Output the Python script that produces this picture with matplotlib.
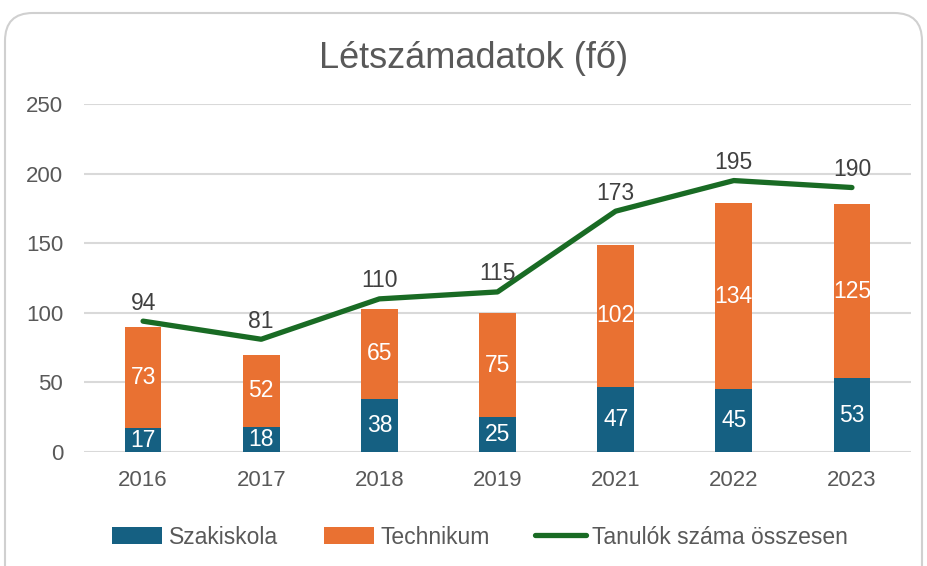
import matplotlib
matplotlib.use("Agg")
import matplotlib.pyplot as plt
from matplotlib.patches import FancyBboxPatch
import numpy as np

plt.rcParams['font.family'] = ['Liberation Sans', 'DejaVu Sans']

years = ["2016", "2017", "2018", "2019", "2021", "2022", "2023"]
szakiskola = [17, 18, 38, 25, 47, 45, 53]
technikum = [73, 52, 65, 75, 102, 134, 125]
osszesen = [94, 81, 110, 115, 173, 195, 190]

BLUE = "#156082"
ORANGE = "#E97132"
GREEN = "#196B24"
TXT = "#595959"
GRID = "#D9D9D9"

W, H = 927, 566
fig = plt.figure(figsize=(W / 100, H / 100), dpi=100)

# rounded chart border
border = FancyBboxPatch((5 / W, -30 / H), (922 - 5) / W, (H - 13 + 30) / H,
                        boxstyle="round,pad=0,rounding_size=0.03",
                        transform=fig.transFigure, facecolor="none",
                        edgecolor="#D0D0D0", linewidth=1.5, mutation_aspect=W / H,
                        zorder=-5)
fig.patches.append(border)

ax = fig.add_axes([84 / W, 114 / H, (911 - 84) / W, 348 / H])
ax.set_facecolor("none")
x = np.arange(len(years))
bw = 0.31

b1 = ax.bar(x, szakiskola, bw, color=BLUE, label="Szakiskola", zorder=2)
b2 = ax.bar(x, technikum, bw, bottom=szakiskola, color=ORANGE, label="Technikum", zorder=2)
ln, = ax.plot(x, osszesen, color=GREEN, lw=3.8, label="Tanulók száma összesen",
              zorder=3, solid_capstyle="round", solid_joinstyle="round")

FS = 16.5
for xi, v in zip(x, szakiskola):
    ax.text(xi, v / 2, str(v), ha="center", va="center", color="white", fontsize=FS, zorder=4)
for xi, s, v in zip(x, szakiskola, technikum):
    ax.text(xi, s + v / 2, str(v), ha="center", va="center", color="white", fontsize=FS, zorder=4)
for xi, v in zip(x, osszesen):
    ax.annotate(str(v), (xi, v), xytext=(0, 13), textcoords="offset points",
                ha="center", va="center", color="#404040", fontsize=FS, zorder=4)

ax.set_ylim(0, 250)
ax.set_xlim(-0.5, len(years) - 0.5)
ax.set_yticks(range(0, 251, 50))
ax.set_xticks(x)
ax.set_xticklabels(years)
ax.tick_params(axis="both", length=0, labelsize=16, colors=TXT)
ax.tick_params(axis="y", pad=15)
ax.tick_params(axis="x", pad=13)
ax.grid(axis="y", color=GRID, lw=1.5, zorder=0)
ax.set_axisbelow(True)
for s in ax.spines.values():
    s.set_visible(False)

fig.text(474 / W, 1 - 58 / H, "Létszámadatok (fő)", ha="center", va="center",
         fontsize=26, color=TXT)

fig.legend(handles=[b1, b2, ln], loc="center", bbox_to_anchor=(480 / W, 1 - 537 / H),
           ncol=3, frameon=False, fontsize=16.5, labelcolor=TXT,
           handlelength=2.2, handletextpad=0.27, columnspacing=2.0)

fig.savefig("out.png", dpi=100)
